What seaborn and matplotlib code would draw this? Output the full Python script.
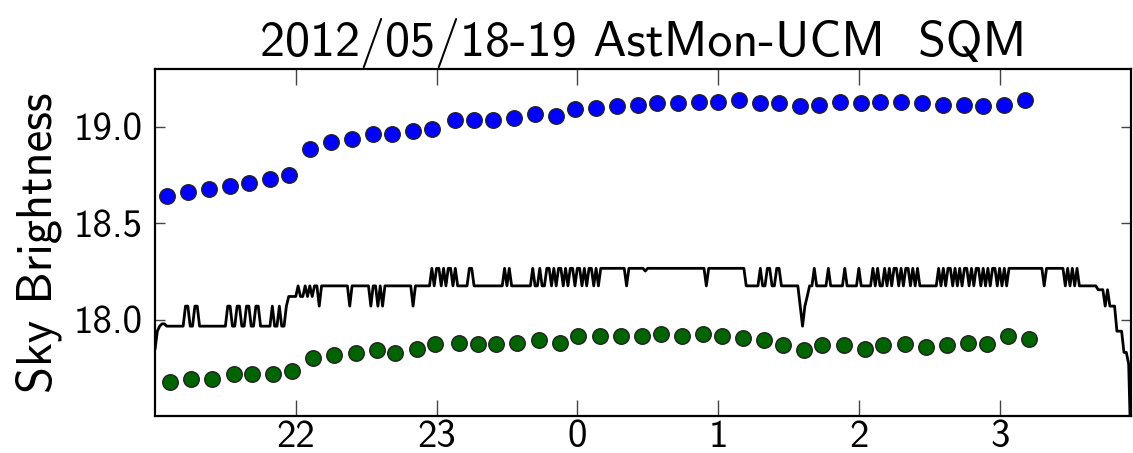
import numpy as np
import matplotlib
matplotlib.use("Agg")
import matplotlib.pyplot as plt
import seaborn as sns

# ---- text ----
title = "2012/05/18-19 AstMon-UCM  SQM"
ylabel = "Sky Brightness"
x_tick_hours = [22, 23, 24, 25, 26, 27]
x_tick_labels = ["22", "23", "0", "1", "2", "3"]
y_ticks = [18.0, 18.5, 19.0]
y_tick_labels = ["18.0", "18.5", "19.0"]

# ---- photometer points (minutes after 21:00, magnitude) ----
blue_minutes = [5, 14, 23, 32, 40, 49, 57, 66, 75, 84, 93, 101, 110, 118,
                128, 136, 144, 153, 162, 171, 179, 188, 197, 206, 214, 223,
                232, 240, 249, 258, 266, 275, 283, 292, 301, 309, 318, 327,
                336, 345, 353, 362, 371]
blue_mag = [18.64, 18.66, 18.68, 18.695, 18.71, 18.73, 18.75, 18.885, 18.92,
            18.935, 18.965, 18.965, 18.98, 18.99, 19.035, 19.035, 19.035,
            19.045, 19.065, 19.055, 19.09, 19.10, 19.107, 19.115, 19.124,
            19.124, 19.13, 19.13, 19.137, 19.124, 19.124, 19.107, 19.115,
            19.13, 19.124, 19.13, 19.13, 19.124, 19.115, 19.115, 19.107,
            19.115, 19.137]

green_minutes = [6.5, 15.5, 24.5, 33.5, 41.5, 50.5, 58.5, 67.5, 76.5, 85.5,
                 94.5, 102.5, 111.5, 119.5, 129.5, 137.5, 145.5, 154.5, 163.5,
                 172.5, 180.5, 189.5, 198.5, 207.5, 215.5, 224.5, 233.5, 241.5,
                 250.5, 259.5, 267.5, 276.5, 284.5, 293.5, 302.5, 310.5, 319.5,
                 328.5, 337.5, 346.5, 354.5, 363.5, 372.5]
green_mag = [17.674, 17.691, 17.691, 17.716, 17.716, 17.716, 17.731, 17.799,
             17.816, 17.825, 17.840, 17.829, 17.849, 17.871, 17.880, 17.871,
             17.876, 17.880, 17.892, 17.880, 17.914, 17.914, 17.914, 17.914,
             17.923, 17.914, 17.923, 17.914, 17.906, 17.893, 17.866, 17.842,
             17.866, 17.866, 17.849, 17.866, 17.871, 17.857, 17.866, 17.880,
             17.875, 17.914, 17.897]

# ---- SQM meter: one reading per minute from 21:00, ten readings per row ----
sqm_levels = {
    "A": 17.966, "B": 18.07, "C": 18.12, "D": 18.175, "E": 18.266,
    "e": 18.252, "d": 18.155,
    "z": 17.845, "y": 17.94, "x": 17.978,
    "v": 17.94, "u": 17.83, "t": 17.77, "s": 17.30,
}
sqm_codes = [
    "zyAxxAAAAA", "AAABBAABBA", "AAAAAAAAAA", "ABBAABBAAB", "BAABBAAAAA",
    "BAABAABCCC", "CDCCDCDCDD", "BDDDDDDDDD", "DDDBDDDDDD", "DDBDDBDBDD",
    "DDDDDDDDDD", "BDDDDDDDED", "EEDEDEEDED", "DDDDEEDDDD", "DDDDDDDDDE",
    "DEDDDDDDDD", "DEDDEDDEED", "EDEEDEDEED", "EEDEDEEDED", "EEEEEEEEEE",
    "EDEEEEEEEe", "EEEEEEEEEE", "EEEEEEEEEE", "EEEEEDEEEE", "EEEEEEEEEE",
    "EEDDDDDDED", "DEEDDEEDDD", "DDDDDBABCD", "DEDDDDDEDD", "DDDDEDDDDD",
    "EDDDDDEDED", "DEDEDEEDED", "EEDEDEDDDD", "DDDDEDEDEE", "DEDEDEEDED",
    "EEDEDEDEED", "EDEDEEEEEE", "EEEEEEEEED", "EEEEEEEEDE", "DEDEDDDDDD",
    "DDdddBdBBB", "vvvuuts",
]

sqm_mag = np.array([sqm_levels[c] for row in sqm_codes for c in row])
sqm_hours = 21 + np.arange(len(sqm_mag)) / 60.0
blue_hours = 21 + np.array(blue_minutes) / 60.0
green_hours = 21 + np.array(green_minutes) / 60.0

sns.set_style("ticks")
plt.rcParams["font.family"] = ["cmss10", "DejaVu Sans"]
plt.rcParams["axes.unicode_minus"] = False
plt.rcParams["text.color"] = "black"
plt.rcParams["axes.labelcolor"] = "black"
plt.rcParams["xtick.color"] = "black"
plt.rcParams["ytick.color"] = "black"

W, H = 1133, 453
fig = plt.figure(figsize=(W / 100, H / 100), dpi=100)
ax = fig.add_axes([155 / W, 1 - 416 / H, 976 / W, 347 / H])

sns.lineplot(x=sqm_hours, y=sqm_mag, color="black", linewidth=2.0,
             estimator=None, sort=False, ax=ax)
sns.scatterplot(x=blue_hours, y=blue_mag, color="#0000ff", s=125,
                edgecolor="#222222", linewidth=1.0, ax=ax, zorder=3)
sns.scatterplot(x=green_hours, y=green_mag, color="#006400", s=125,
                edgecolor="#222222", linewidth=1.0, ax=ax, zorder=3)

ax.set_xlim(sqm_hours[0], sqm_hours[-1])
ax.set_ylim(17.5, 19.3)
ax.set_xticks(x_tick_hours, x_tick_labels)
ax.set_yticks(y_ticks, y_tick_labels)
ax.tick_params(axis="both", which="major", direction="in", top=True,
               right=True, width=1.0, labelsize=28, labelcolor="black")
ax.tick_params(axis="both", which="major", color="#444444")
ax.tick_params(axis="x", length=11.5, pad=3)
ax.tick_params(axis="y", length=7, pad=9)
for sp in ax.spines.values():
    sp.set_linewidth(1.6)
    sp.set_color("black")

ax.set_ylabel(ylabel, fontsize=35, labelpad=8)
ax.set_title(title, fontsize=36, pad=9)

fig.savefig("out.png", dpi=100)
